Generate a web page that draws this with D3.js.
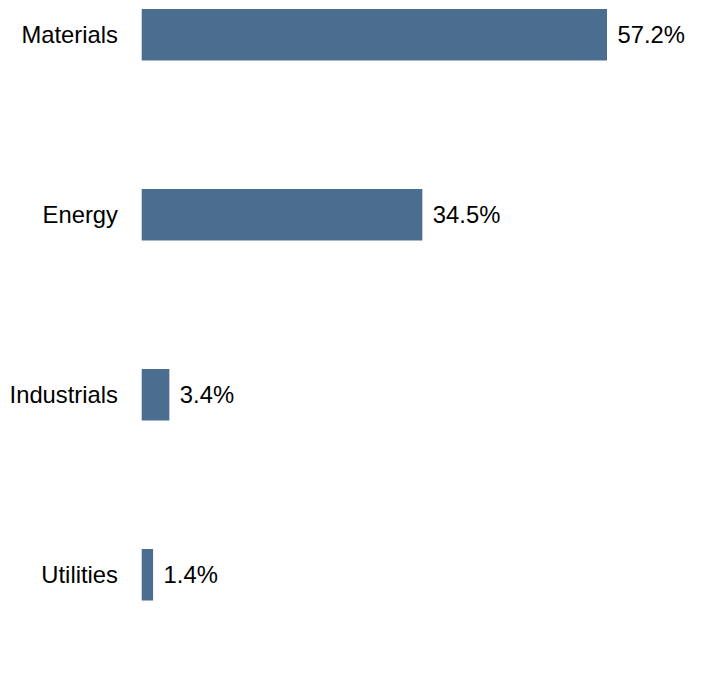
<!DOCTYPE html>
<html>
<head>
<meta charset="utf-8">
<script src="https://cdn.jsdelivr.net/npm/d3@7"></script>
<style>
  html, body { margin: 0; padding: 0; background: #fff; }
  svg { display: block; font-family: "Liberation Sans", Arial, sans-serif; }
</style>
</head>
<body>
<div id="chart"></div>
<script>
// data
const sectors = ["Materials", "Energy", "Industrials", "Utilities"];
const weights = [57.2, 34.5, 3.4, 1.4];

const width = 720, height = 696;
const barLeft = 141.7;
const fontSize = 23.8;

const svg = d3.select("#chart")
  .append("svg")
  .attr("width", width)
  .attr("height", height);

// scales
const x = d3.scaleLinear()
  .domain([0, 57.2])
  .range([barLeft, 607]);

const y = d3.scaleBand()
  .domain(sectors)
  .range([9, 600.5])
  .paddingInner(0.714)
  .paddingOuter(0);

const rows = sectors.map((s, i) => ({ sector: s, value: weights[i] }));

// bars
svg.append("g")
  .selectAll("rect")
  .data(rows)
  .join("rect")
  .attr("x", x(0))
  .attr("y", d => y(d.sector))
  .attr("width", d => x(d.value) - x(0))
  .attr("height", y.bandwidth())
  .attr("fill", "#4a6d90");

// category labels
svg.append("g")
  .selectAll("text")
  .data(rows)
  .join("text")
  .attr("x", 118)
  .attr("y", d => y(d.sector) + y.bandwidth() / 2)
  .attr("dy", "0.34em")
  .attr("text-anchor", "end")
  .attr("font-size", fontSize)
  .attr("fill", "#000")
  .text(d => d.sector);

// value labels
svg.append("g")
  .selectAll("text")
  .data(rows)
  .join("text")
  .attr("x", d => x(d.value) + 10.5)
  .attr("y", d => y(d.sector) + y.bandwidth() / 2)
  .attr("dy", "0.34em")
  .attr("font-size", fontSize)
  .attr("fill", "#000")
  .text(d => d.value.toFixed(1) + "%");
</script>
</body>
</html>
